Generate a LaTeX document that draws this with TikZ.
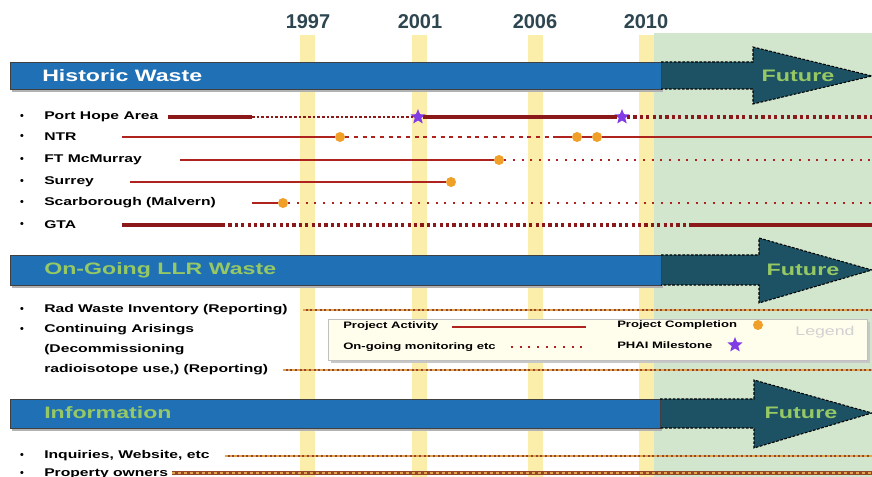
\documentclass[tikz,border=0pt]{standalone}
\usepackage{fontspec}
\setmainfont{Liberation Sans}
\newfontfamily\wide[FakeStretch=1.4]{Liberation Sans}
\usetikzlibrary{shapes.geometric}
\definecolor{barblue}{RGB}{32,112,182}
\definecolor{darkteal}{RGB}{28,82,100}
\definecolor{futgreen}{RGB}{150,200,100}
\definecolor{stripe}{RGB}{250,238,170}
\definecolor{futbg}{RGB}{210,230,205}
\definecolor{yearcol}{RGB}{45,70,80}
\definecolor{darkred}{RGB}{140,25,25}
\definecolor{linered}{RGB}{175,35,30}
\definecolor{dotorange}{RGB}{240,160,40}
\definecolor{starpurple}{RGB}{130,60,230}
\definecolor{brownline}{RGB}{150,70,40}
\definecolor{dashorange}{RGB}{225,165,80}
\definecolor{legbg}{RGB}{255,253,236}
\tikzset{
  yearlabel/.style={font=\bfseries\fontsize{15}{17}\selectfont, text=yearcol, inner sep=0},
  bartitle/.style={anchor=west, font=\wide\bfseries\fontsize{12.4}{14}\selectfont, inner sep=0},
  futurelabel/.style={font=\wide\bfseries\fontsize{12.5}{14}\selectfont, text=futgreen, inner sep=0},
  item/.style={anchor=west, font=\wide\bfseries\fontsize{8.4}{10}\selectfont, inner sep=0},
  bul/.style={font=\bfseries\fontsize{8}{9}\selectfont, inner sep=0},
  legtext/.style={anchor=west, font=\wide\bfseries\fontsize{7}{8}\selectfont, inner sep=0},
  compdot/.style={circle, fill=dotorange, inner sep=0, minimum size=7.5pt},
  milestar/.style={star, star points=5, star point ratio=2.3, fill=starpurple, inner sep=0, minimum size=12pt},
  actthick/.style={draw=darkred, line width=2.8pt},
  actthin/.style={draw=linered, line width=1.5pt},
  finedash/.style={draw=darkred, line width=1.5pt, dash pattern=on 2pt off 1.5pt},
  thickdots/.style={draw=darkred, line width=2.8pt, dash pattern=on 2.4pt off 2.4pt},
  dashedred/.style={draw=linered, line width=1.4pt, dash pattern=on 3pt off 3.5pt},
  dottedred/.style={draw=linered, line width=1.5pt, dash pattern=on 1.5pt off 5pt},
  llrline/.style={draw=brownline, line width=1.4pt, postaction={draw=dashorange, line width=1.6pt, dash pattern=on 2pt off 1.5pt}},
  llrheavy/.style={draw=brownline, line width=2.6pt, postaction={draw=dashorange, line width=1.2pt, dash pattern=on 2pt off 2.5pt}},
  headline/.style={draw=black, line width=0.8pt, dash pattern=on 2pt off 1.2pt},
}
\begin{document}
\begin{tikzpicture}[x=0.75pt,y=-0.75pt]
\useasboundingbox (0,0) rectangle (872,477);
\fill[white] (0,0) rectangle (872,477);
% future background and year stripes
\fill[futbg] (654,33) rectangle (872,477);
\foreach \sx in {300,412,528,639} {\fill[stripe] (\sx,35) rectangle ++(15,442);}
% year labels
\node[yearlabel] (y1997) at (308,22) {1997};
\node[yearlabel] (y2001) at (420,22) {2001};
\node[yearlabel] (y2006) at (535,22) {2006};
\node[yearlabel] (y2010) at (646,22) {2010};
% ---------- Historic Waste bar
\fill[black!30] (12,65) rectangle (663,92);
\filldraw[fill=barblue, draw=black!75, line width=0.6pt] (10,62) rectangle (661,89);
\fill[darkteal] (661,62) -- (753,62) -- (753,47) -- (872,76) -- (753,104) -- (753,89) -- (661,89) -- cycle;
\draw[black!75, line width=0.6pt] (661,62) -- (661,89);
\draw[headline] (661,62) -- (753,62) -- (753,47) -- (872,76) -- (753,104) -- (753,89) -- (661,89);
\node[bartitle, text=white] (hw) at (42,76) {Historic Waste};
\node[futurelabel] (fut1) at (798,76) {Future};
% ---------- On-Going LLR bar
\fill[black!30] (12,258) rectangle (663,288);
\filldraw[fill=barblue, draw=black!75, line width=0.6pt] (10,255) rectangle (661,285);
\fill[darkteal] (661,255) -- (759,255) -- (759,238) -- (872,270) -- (759,303) -- (759,285) -- (661,285) -- cycle;
\draw[black!75, line width=0.6pt] (661,255) -- (661,285);
\draw[headline] (661,255) -- (759,255) -- (759,238) -- (872,270) -- (759,303) -- (759,285) -- (661,285);
\node[bartitle, text=futgreen] (llr) at (44,270) {On-Going LLR Waste};
\node[futurelabel] (fut2) at (803,270) {Future};
% ---------- Information bar
\fill[black!30] (12,402) rectangle (662,431);
\filldraw[fill=barblue, draw=black!75, line width=0.6pt] (10,399) rectangle (660,428);
\fill[darkteal] (660,399) -- (754,399) -- (754,380) -- (872,413) -- (754,448) -- (754,428) -- (660,428) -- cycle;
\draw[black!75, line width=0.6pt] (660,399) -- (660,428);
\draw[headline] (660,399) -- (754,399) -- (754,380) -- (872,413) -- (754,448) -- (754,428) -- (660,428);
\node[bartitle, text=futgreen] (info) at (44,413) {Information};
\node[futurelabel] (fut3) at (801,413) {Future};
% ---------- Historic items
\foreach \yy in {117,137,160,182,203,225,310,330,456,474} {\node[bul] at (22,\yy) {•};}
\node[item] (ph) at (44,117) {Port Hope Area};
\node[item] (ntr) at (44,137) {NTR};
\node[item] (ftm) at (44,160) {FT McMurray};
\node[item] (sur) at (44,182) {Surrey};
\node[item] (sca) at (44,203) {Scarborough (Malvern)};
\node[item] (gta) at (44,225) {GTA};
% Port Hope
\coordinate (ph0) at (168,117); \coordinate (ph1) at (252,117); \coordinate (phE) at (872,117);
\node[milestar] (phs1) at (418,117) {};
\node[milestar] (phs2) at (622,117) {};
\draw[actthick] (ph0) -- (ph1);
\draw[finedash] (ph1) -- (phs1);
\draw[actthick] (phs1) -- (phs2);
\draw[thickdots] (phs2) -- (phE);
% NTR
\coordinate (ntr0) at (122,137); \coordinate (ntrE) at (872,137);
\node[compdot] (ntrd1) at (340,137) {};
\node[compdot] (ntrd2) at (577,137) {};
\node[compdot] (ntrd3) at (597,137) {};
\draw[actthin] (ntr0) -- (ntrd1);
\draw[dashedred] (ntrd1) -- (555,137);
\draw[actthin] (555,137) -- (ntrd2);
\draw[actthin] (ntrd2) -- (ntrd3);
\draw[actthin] (ntrd3) -- (ntrE);
% FT McMurray
\coordinate (ftm0) at (180,160); \coordinate (ftmE) at (872,160);
\node[compdot] (ftmd) at (499,160) {};
\draw[actthin] (ftm0) -- (ftmd);
\draw[dottedred] (ftmd) -- (ftmE);
% Surrey
\coordinate (sur0) at (130,182);
\node[compdot] (surd) at (451,182) {};
\draw[actthin] (sur0) -- (surd);
% Scarborough
\coordinate (sca0) at (252,203); \coordinate (scaE) at (872,203);
\node[compdot] (scad) at (283,203) {};
\draw[actthin] (sca0) -- (scad);
\draw[dottedred] (scad) -- (scaE);
% GTA
\coordinate (gta0) at (122,225); \coordinate (gta1) at (222,225);
\coordinate (gta2) at (691,225); \coordinate (gtaE) at (872,225);
\draw[actthick] (gta0) -- (gta1);
\draw[thickdots] (gta1) -- (gta2);
\draw[actthick] (gta2) -- (gtaE);
% ---------- LLR items
\node[item] (rad) at (44,310) {Rad Waste Inventory (Reporting)};
\node[item] (cont1) at (44,330) {Continuing Arisings};
\node[item] (cont2) at (44,350) {(Decommissioning};
\node[item] (cont3) at (44,370) {radioisotope use,) (Reporting)};
\coordinate (rad0) at (303,310); \coordinate (radE) at (872,310);
\draw[llrline] (rad0) -- (radE);
\coordinate (cont0) at (283,370); \coordinate (contE) at (872,370);
\draw[llrline] (cont0) -- (contE);
% ---------- Legend
\fill[black!22] (331,322) rectangle (870,363);
\filldraw[fill=legbg, draw=black!25, line width=0.5pt] (328,319) rectangle (867,360);
\node[legtext] (lgpa) at (343,326) {Project Activity};
\node[legtext] (lgom) at (343,347) {On-going monitoring etc};
\node[legtext] (lgpc) at (617,325) {Project Completion};
\node[legtext] (lgms) at (617,345) {PHAI Milestone};
\coordinate (lgpa0) at (452,327); \coordinate (lgpa1) at (586,327);
\draw[actthin] (lgpa0) -- (lgpa1);
\coordinate (lgom0) at (511,347); \coordinate (lgom1) at (586,347);
\draw[dottedred] (lgom0) -- (lgom1);
\node[compdot] (lgdot) at (758,325) {};
\node[milestar] (lgstar) at (735,345) {};
\node[font=\wide\fontsize{9.5}{11}\selectfont, text=black!18, inner sep=0] (lgtitle) at (825,332) {Legend};
% ---------- Information items
\node[item] (inq) at (44,456) {Inquiries, Website, etc};
\node[item] (prop) at (44,474) {Property owners};
\coordinate (inq0) at (225,456); \coordinate (inqE) at (872,456);
\draw[llrline] (inq0) -- (inqE);
\coordinate (prop0) at ([xshift=3pt]prop.east |- 0,473); \coordinate (propE) at (872,473);
\draw[llrheavy] (prop0) -- (propE);
\end{tikzpicture}
\end{document}
